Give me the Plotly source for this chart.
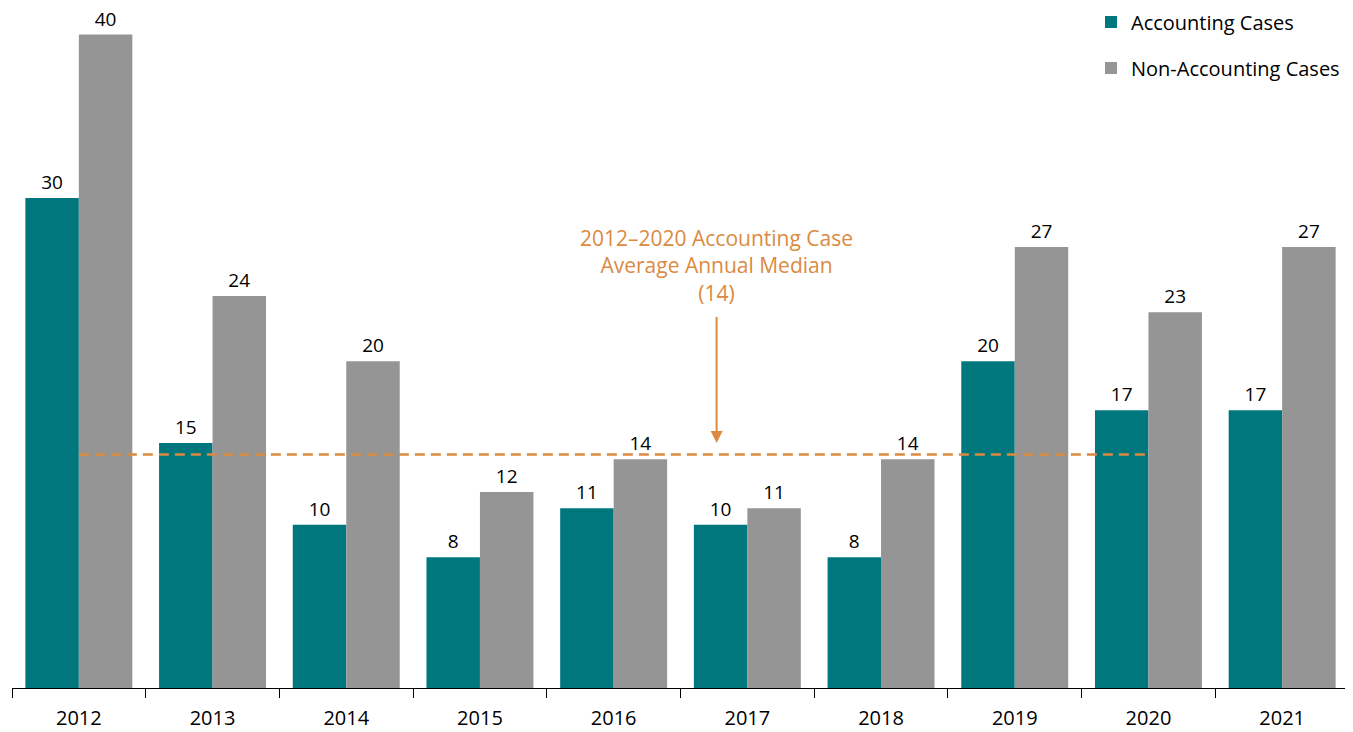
import plotly.graph_objects as go

years = ["2012", "2013", "2014", "2015", "2016", "2017", "2018", "2019", "2020", "2021"]
accounting = [30, 15, 10, 8, 11, 10, 8, 20, 17, 17]
non_accounting = [40, 24, 20, 12, 14, 11, 14, 27, 23, 27]
median_years = ["2012", "2020"]
median_value = 14.3
median_label = "2012–2020 Accounting Case<br>Average Annual Median<br>(14)"

TEAL = "#00777D"
GREY = "#959595"
ORANGE = "#DC8A42"
FONT = "Open Sans"

fig = go.Figure()
fig.add_trace(go.Bar(
    x=years, y=accounting, name="Accounting Cases",
    marker=dict(color=TEAL, line=dict(width=0)),
    text=accounting, textposition="outside", cliponaxis=False,
    textfont=dict(size=19, color="black", family=FONT),
    legendgroup="a",
))
fig.add_trace(go.Bar(
    x=years, y=non_accounting, name="Non-Accounting Cases",
    marker=dict(color=GREY, line=dict(width=0)),
    text=non_accounting, textposition="outside", cliponaxis=False,
    textfont=dict(size=19, color="black", family=FONT),
    legendgroup="b",
))
fig.add_trace(go.Scatter(
    x=median_years, y=[median_value, median_value], mode="lines",
    line=dict(color=ORANGE, width=2.5, dash="10px,6px"),
    showlegend=False, hoverinfo="skip",
))

fig.add_annotation(
    x=4.77, y=25.85, xref="x", yref="y", text=median_label, showarrow=False,
    font=dict(size=21, color=ORANGE, family=FONT), align="center",
    xanchor="center", yanchor="middle",
)
fig.add_annotation(
    x=4.77, y=15.0, xref="x", yref="y", ax=4.77, ay=22.8, axref="x", ayref="y",
    text="", showarrow=True, arrowhead=2, arrowsize=1.2, arrowwidth=2, arrowcolor=ORANGE,
)

fig.update_layout(
    width=1345, height=724,
    margin=dict(l=4, r=4, t=2, b=44, autoexpand=False),
    paper_bgcolor="white", plot_bgcolor="white",
    barmode="group", bargap=0.2, bargroupgap=0,
    font=dict(family=FONT, size=20, color="black"),
    legend=dict(
        x=0.997, y=1.011, xref="paper", yref="paper", xanchor="right", yanchor="top",
        font=dict(size=20, family=FONT, color="black"),
        traceorder="grouped", tracegroupgap=17, bgcolor="rgba(0,0,0,0)",
    ),
    showlegend=True,
)
fig.update_xaxes(
    type="category", showline=True, linecolor="black", linewidth=1,
    ticks="outside", tickson="boundaries", ticklen=9, tickcolor="black",
    tickfont=dict(size=20, family=FONT, color="black"), showgrid=False,
    ticklabelstandoff=12, automargin=False,
)
fig.update_yaxes(range=[0, 41.5], visible=False, showgrid=False, zeroline=False, automargin=False)

fig.write_html("out.html")
